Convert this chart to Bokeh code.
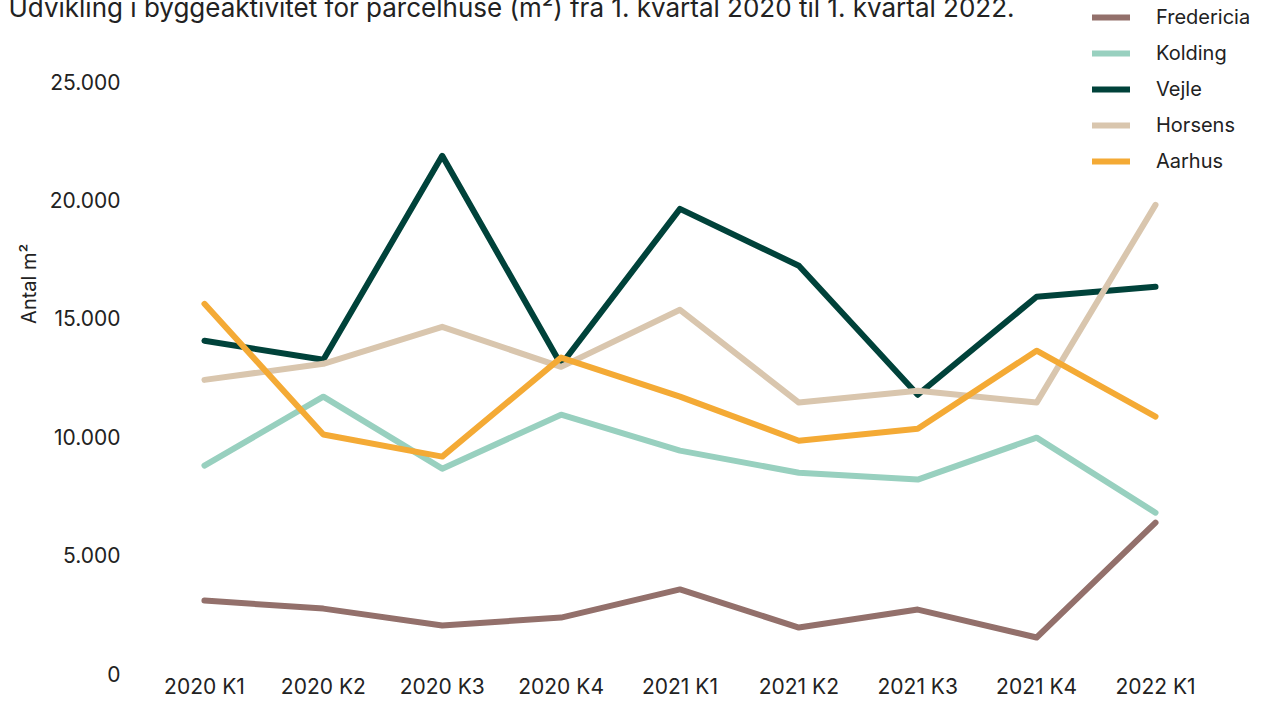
from bokeh.plotting import figure
from bokeh.models import Range1d, FixedTicker, Legend, LegendItem, Title, CustomJSTickFormatter
from bokeh.embed import file_html
from bokeh.resources import INLINE

quarters = ["2020 K1", "2020 K2", "2020 K3", "2020 K4", "2021 K1", "2021 K2", "2021 K3", "2021 K4", "2022 K1"]
fredericia = [3080, 2740, 2030, 2360, 3550, 1940, 2700, 1520, 6370]
kolding = [8780, 11690, 8650, 10930, 9410, 8480, 8190, 9960, 6790]
vejle = [14050, 13250, 21860, 13040, 19620, 17220, 11770, 15910, 16330]
horsens = [12400, 13080, 14640, 12950, 15360, 11440, 11940, 11440, 19790]
aarhus = [15610, 10090, 9160, 13340, 11690, 9830, 10340, 13630, 10850]

series = [
    ("Fredericia", fredericia, "#93706b"),
    ("Kolding", kolding, "#98d0bf"),
    ("Vejle", vejle, "#00423a"),
    ("Horsens", horsens, "#d9c6ae"),
    ("Aarhus", aarhus, "#f4aa35"),
]

FONT = "Inter"
TXT = "#222222"
xs = list(range(len(quarters)))

W, H = 1263, 701
LEFT, TOP, BOTTOM = 140, 6, 28
FB = H - BOTTOM  # frame bottom in canvas px
PXU = (673 - 81) / 25000.0
YEND = (FB - TOP) / PXU

p = figure(width=W, height=H, output_backend="svg", toolbar_location=None,
           x_range=Range1d(-0.538, 8.9085), y_range=Range1d(0, YEND),
           min_border_left=LEFT, min_border_right=0, min_border_top=TOP, min_border_bottom=BOTTOM)
p.styles = {"position": "absolute", "top": "0px", "left": "0px"}
p.outline_line_color = None
p.grid.grid_line_color = None

p.title = Title(text="Udvikling i byggeaktivitet for parcelhuse (m²) fra 1. kvartal 2020 til 1. kvartal 2022.",
                align="left", offset=8 - LEFT, standoff=-33,
                text_font=FONT, text_font_size="26px", text_font_style="normal", text_color=TXT)

items = []
for name, vals, col in series:
    r = p.line(xs, vals, line_color=col, line_width=6, line_cap="round", line_join="round")
    items.append(LegendItem(label=name, renderers=[r]))

p.xaxis.ticker = FixedTicker(ticks=xs)
p.xaxis.major_label_overrides = {i: q for i, q in enumerate(quarters)}
p.yaxis.ticker = FixedTicker(ticks=[0, 5000, 10000, 15000, 20000, 25000])
p.yaxis.formatter = CustomJSTickFormatter(code="return tick.toLocaleString('da-DK').replace(/,/g, '.');")
for ax in (p.xaxis[0], p.yaxis[0]):
    ax.axis_line_color = None
    ax.major_tick_line_color = None
    ax.minor_tick_line_color = None
    ax.major_tick_out = 0
    ax.major_tick_in = 0
    ax.minor_tick_out = 0
    ax.major_label_text_font = FONT
    ax.major_label_text_color = TXT
    ax.major_label_text_font_size = "21px"
p.xaxis.major_label_standoff = 0
p.yaxis.major_label_standoff = 20

p.yaxis.axis_label = "\u00a0" * 20 + "Antal m²"
p.yaxis.axis_label_text_font = FONT
p.yaxis.axis_label_text_font_style = "normal"
p.yaxis.axis_label_text_font_size = "20px"
p.yaxis.axis_label_text_color = TXT
p.yaxis.axis_label_standoff = 6

legend = Legend(items=items, location=(1092 - LEFT, FB - 173), orientation="vertical",
                label_text_font=FONT, label_text_font_size="20px", label_text_color=TXT,
                glyph_width=38, glyph_height=20, spacing=12, label_standoff=26,
                label_height=20,
                border_line_color=None, background_fill_alpha=0, padding=0, margin=0)
p.add_layout(legend, "center")

open("out.html", "w").write(file_html(p, INLINE))
